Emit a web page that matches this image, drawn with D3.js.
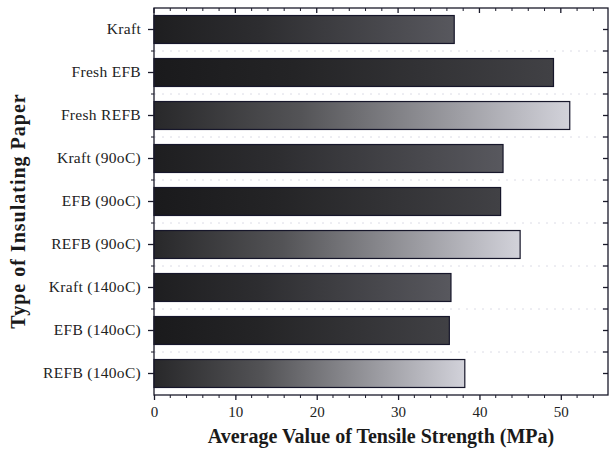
<!DOCTYPE html>
<html>
<head>
<meta charset="utf-8">
<script src="https://cdn.jsdelivr.net/npm/d3@7"></script>
<style>
  body { margin: 0; background: #fff; }
  svg { display: block; font-family: "Liberation Serif", "Times New Roman", serif; }
</style>
</head>
<body>
<div id="chart"></div>
<script>
// Chart data
const categories = ["Kraft", "Fresh EFB", "Fresh REFB", "Kraft (90oC)", "EFB (90oC)",
                    "REFB (90oC)", "Kraft (140oC)", "EFB (140oC)", "REFB (140oC)"];
const paperKind = ["kraft", "efb", "refb", "kraft", "efb", "refb", "kraft", "efb", "refb"];
const tensile = [36.9, 49.1, 51.1, 42.9, 42.6, 45.0, 36.5, 36.3, 38.2];
const xTicks = [0, 10, 20, 30, 40, 50];

// gradient end colours per paper kind
const shade = {
    kraft: ["#1e1e20", "#58585e"],
    efb:   ["#1a1a1c", "#414145"],
    refb:  ["#28282a", "#d2d2da"]
};

const W = 612, H = 449;
const margin = {top: 8, right: 4, bottom: 54, left: 154};
const width = W - margin.left - margin.right;
const height = H - margin.top - margin.bottom;

const svg = d3.select("#chart").append("svg")
    .attr("width", W)
    .attr("height", H);

const defs = svg.append("defs");
Object.entries(shade).forEach(([k, c]) => {
    const g = defs.append("linearGradient")
        .attr("id", "grad-" + k)
        .attr("x1", "0%").attr("x2", "100%")
        .attr("y1", "0%").attr("y2", "0%");
    g.append("stop").attr("offset", "0%").attr("stop-color", c[0]);
    g.append("stop").attr("offset", "35%").attr("stop-color", d3.interpolateRgb(c[0], c[1])(0.25));
    g.append("stop").attr("offset", "100%").attr("stop-color", c[1]);
});

const chart = svg.append("g")
    .attr("transform", `translate(${margin.left},${margin.top})`);

const x = d3.scaleLinear().domain([0, 55.8]).range([0, width]);
const y = d3.scaleBand().domain(categories).range([0, height]).paddingInner(0.35).paddingOuter(0.175);

// minor positions between categories
const between = categories.slice(0, -1).map(c => y(c) + y.bandwidth() + y.step() * y.paddingInner() / 2);
const minorX = d3.range(0, 56, 2).filter(v => v % 10 !== 0);

// faint dotted lines between bars
chart.append("g").selectAll("line")
    .data(between)
    .join("line")
    .attr("x1", 0).attr("x2", width)
    .attr("y1", d => d).attr("y2", d => d)
    .attr("stroke", "#dcdce6")
    .attr("stroke-width", 1)
    .attr("stroke-dasharray", "2,6");

// bars
chart.append("g").selectAll("rect")
    .data(tensile)
    .join("rect")
    .attr("x", x(0))
    .attr("y", (d, i) => y(categories[i]))
    .attr("width", d => x(d) - x(0))
    .attr("height", y.bandwidth())
    .attr("fill", (d, i) => `url(#grad-${paperKind[i]})`)
    .attr("stroke", "#16162a")
    .attr("stroke-width", 1.2);

// frame
chart.append("rect")
    .attr("width", width).attr("height", height)
    .attr("fill", "none")
    .attr("stroke", "#1a1a2a")
    .attr("stroke-width", 1.3);

// bottom axis
const xAxis = chart.append("g")
    .attr("transform", `translate(0,${height})`)
    .call(d3.axisBottom(x).tickValues(xTicks).tickSize(5).tickPadding(6));
xAxis.select(".domain").remove();
xAxis.selectAll("text").attr("font-size", 15).attr("fill", "#222")
    .attr("font-family", "Liberation Serif");
xAxis.selectAll("line").attr("stroke", "#1a1a2a").attr("stroke-width", 1.3);
xAxis.append("g").selectAll("line")
    .data(minorX)
    .join("line")
    .attr("x1", d => x(d)).attr("x2", d => x(d))
    .attr("y1", 0).attr("y2", 3)
    .attr("stroke", "#1a1a2a");

// top axis (ticks inward)
const topAxis = chart.append("g");
topAxis.selectAll("line.major")
    .data(xTicks)
    .join("line")
    .attr("x1", d => x(d)).attr("x2", d => x(d))
    .attr("y1", 0).attr("y2", 5)
    .attr("stroke", "#1a1a2a").attr("stroke-width", 1.3);
topAxis.selectAll("line.minor")
    .data(minorX)
    .join("line")
    .attr("x1", d => x(d)).attr("x2", d => x(d))
    .attr("y1", 0).attr("y2", 3)
    .attr("stroke", "#1a1a2a");

// left axis
const yAxis = chart.append("g")
    .call(d3.axisLeft(y).tickSize(6).tickPadding(7));
yAxis.select(".domain").remove();
yAxis.selectAll("text").attr("font-size", 15.5).attr("fill", "#222")
    .attr("font-family", "Liberation Serif")
    .attr("letter-spacing", 0.3);
yAxis.selectAll("line").attr("stroke", "#1a1a2a").attr("stroke-width", 1.3);
yAxis.append("g").selectAll("line")
    .data(between)
    .join("line")
    .attr("x1", -3).attr("x2", 0)
    .attr("y1", d => d).attr("y2", d => d)
    .attr("stroke", "#1a1a2a");

// right axis (ticks inward)
const rightTicks = categories.map(c => y(c) + y.bandwidth() / 2).concat(between);
chart.append("g").selectAll("line")
    .data(rightTicks)
    .join("line")
    .attr("x1", width - 5).attr("x2", width)
    .attr("y1", d => d).attr("y2", d => d)
    .attr("stroke", "#1a1a2a").attr("stroke-width", 1.3);

// axis titles
svg.append("text")
    .attr("x", 381)
    .attr("y", H - 6)
    .attr("text-anchor", "middle")
    .attr("font-size", 20)
    .attr("font-weight", "bold")
    .attr("fill", "#1a1a1a")
    .text("Average Value of Tensile Strength (MPa)");

svg.append("text")
    .attr("transform", `translate(25,211) rotate(-90)`)
    .attr("text-anchor", "middle")
    .attr("font-size", 20)
    .attr("font-weight", "bold")
    .attr("letter-spacing", 1)
    .attr("fill", "#1a1a1a")
    .text("Type of Insulating Paper");
</script>
</body>
</html>
